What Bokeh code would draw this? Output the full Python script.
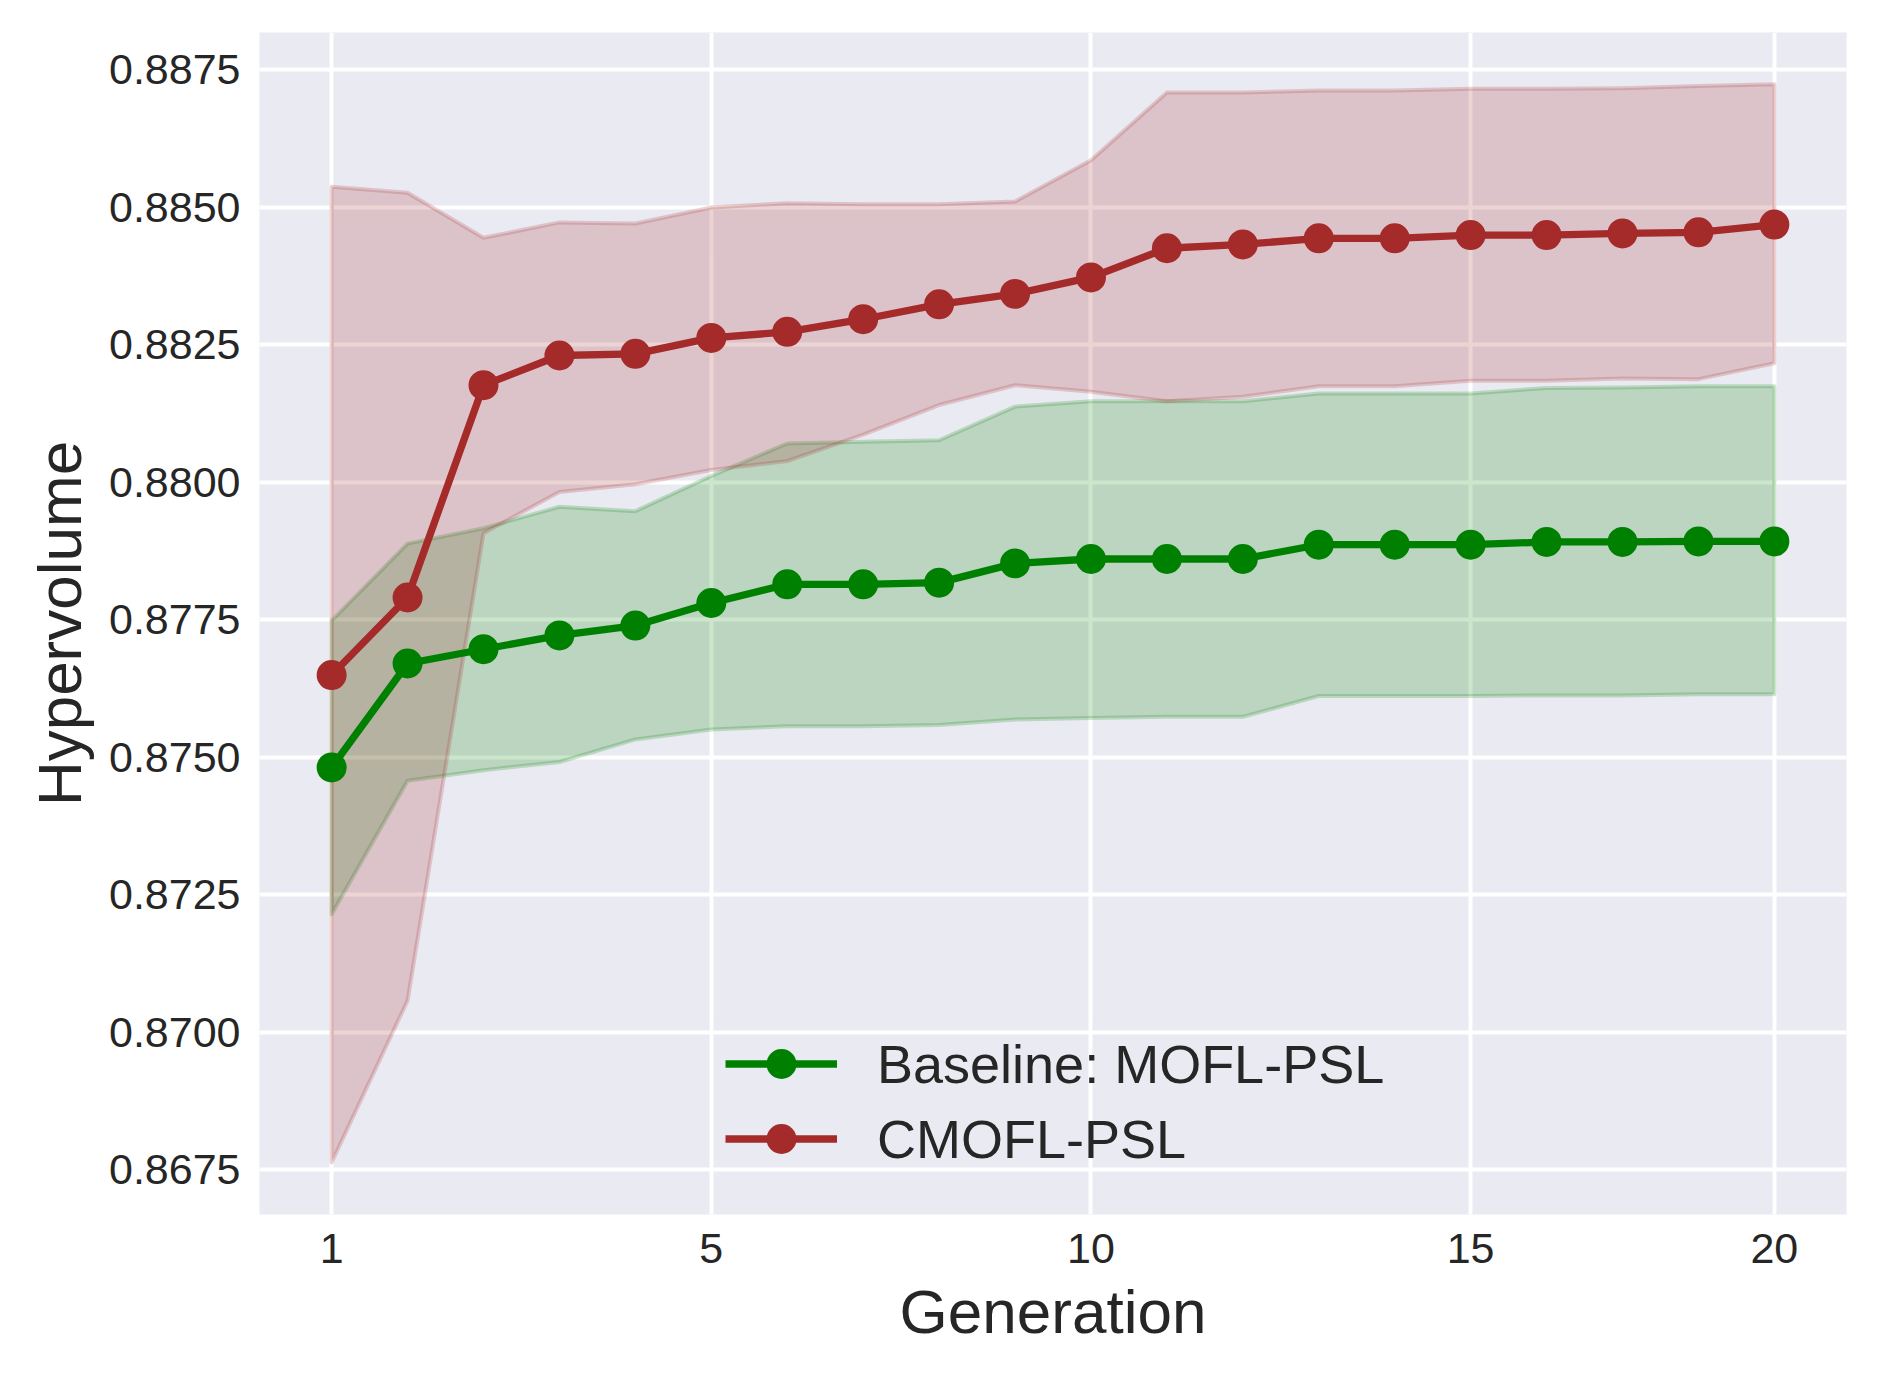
from bokeh.plotting import figure
from bokeh.models import FixedTicker, Legend, LegendItem, Range1d
from bokeh.embed import file_html
from bokeh.resources import INLINE

# ---- data ----
generation = list(range(20))
x_tick_pos = [0, 5, 10, 15, 19]
x_tick_labels = ["1", "5", "10", "15", "20"]
y_ticks = [0.8675, 0.8700, 0.8725, 0.8750, 0.8775, 0.8800, 0.8825, 0.8850, 0.8875]
y_tick_labels = ["0.8675", "0.8700", "0.8725", "0.8750", "0.8775", "0.8800", "0.8825", "0.8850", "0.8875"]

baseline_mean = [0.87481, 0.87670, 0.87696, 0.87721, 0.87739, 0.87780, 0.87814, 0.87814,
                 0.87817, 0.87852, 0.87860, 0.87860, 0.87860, 0.87886, 0.87886, 0.87886,
                 0.87891, 0.87891, 0.87892, 0.87892]
baseline_upper = [0.87748, 0.87888, 0.87916, 0.87955, 0.87947, 0.88011, 0.88070, 0.88073,
                  0.88076, 0.88137, 0.88147, 0.88147, 0.88147, 0.88161, 0.88161, 0.88161,
                  0.88171, 0.88172, 0.88174, 0.88174]
baseline_lower = [0.87214, 0.87457, 0.87476, 0.87491, 0.87532, 0.87550, 0.87556, 0.87556,
                  0.87558, 0.87568, 0.87571, 0.87573, 0.87573, 0.87611, 0.87611, 0.87611,
                  0.87612, 0.87612, 0.87614, 0.87614]

cmofl_mean = [0.87649, 0.87790, 0.88176, 0.88230, 0.88233, 0.88262, 0.88273, 0.88296,
              0.88323, 0.88342, 0.88372, 0.88425, 0.88432, 0.88443, 0.88443, 0.88449,
              0.88449, 0.88452, 0.88454, 0.88468]
cmofl_upper = [0.88537, 0.88526, 0.88444, 0.88472, 0.88470, 0.88499, 0.88507, 0.88505,
               0.88505, 0.88510, 0.88585, 0.88708, 0.88708, 0.88712, 0.88712, 0.88715,
               0.88715, 0.88716, 0.88720, 0.88723]
cmofl_lower = [0.86763, 0.87057, 0.87907, 0.87982, 0.87996, 0.88022, 0.88038, 0.88086,
               0.88140, 0.88176, 0.88164, 0.88147, 0.88155, 0.88174, 0.88174, 0.88184,
               0.88184, 0.88188, 0.88187, 0.88216]

series_names = ["Baseline: MOFL-PSL", "CMOFL-PSL"]
series_colors = ["#008000", "#A52A2A"]

FONT = "Liberation Sans"
TXT = "#262626"

W, H = 1862, 1361
p = figure(width=W, height=H, output_backend="svg", toolbar_location=None,
           x_range=Range1d(-0.95, 19.95), y_range=Range1d(0.866682, 0.888173),
           min_border_left=259, min_border_right=16, min_border_top=32, min_border_bottom=147)
p.background_fill_color = "#EAEAF2"
p.border_fill_color = "white"
p.outline_line_color = None

for g in (p.xgrid, p.ygrid):
    g.grid_line_color = "white"
    g.grid_line_width = 4
p.xgrid.ticker = FixedTicker(ticks=x_tick_pos)
p.ygrid.ticker = FixedTicker(ticks=y_ticks)

p.xaxis.ticker = FixedTicker(ticks=x_tick_pos)
p.xaxis.major_label_overrides = dict(zip(x_tick_pos, x_tick_labels))
p.yaxis.ticker = FixedTicker(ticks=y_ticks)
p.yaxis.major_label_overrides = dict(zip(y_ticks, y_tick_labels))

for ax in (p.xaxis, p.yaxis):
    ax.axis_line_color = None
    ax.major_tick_line_color = None
    ax.minor_tick_line_color = None
    ax.major_tick_out = 0
    ax.major_tick_in = 0
    ax.major_label_text_font = FONT
    ax.major_label_text_font_size = "43px"
    ax.major_label_text_color = TXT
    ax.axis_label_text_font = FONT
    ax.axis_label_text_font_size = "62px"
    ax.axis_label_text_font_style = "normal"
    ax.axis_label_text_color = TXT

p.xaxis.axis_label = "Generation"
p.yaxis.axis_label = "Hypervolume"
p.xaxis.major_label_standoff = 19
p.yaxis.major_label_standoff = 19
p.xaxis.axis_label_standoff = 11
p.yaxis.axis_label_standoff = 12

# bands
for lower, upper, c in ((baseline_lower, baseline_upper, series_colors[0]),
                        (cmofl_lower, cmofl_upper, series_colors[1])):
    xs = generation + generation[::-1]
    ys = upper + lower[::-1]
    p.patch(xs, ys, fill_color=c, fill_alpha=0.2, line_color=c, line_alpha=0.2,
            line_width=4, line_join="round")

items = []
for means, c, name in ((baseline_mean, series_colors[0], series_names[0]),
                       (cmofl_mean, series_colors[1], series_names[1])):
    l = p.line(generation, means, line_color=c, line_width=7.3, line_join="round")
    s = p.scatter(generation, means, size=30, fill_color=c, line_color=None)
    items.append(LegendItem(label=name, renderers=[l, s]))

legend = Legend(items=items, location=(466, 38), background_fill_alpha=0,
                border_line_color=None, padding=0, margin=0, spacing=0,
                glyph_width=112, glyph_height=75, label_height=75,
                label_standoff=40, label_text_font=FONT, label_text_font_size="54px",
                label_text_color=TXT)
p.add_layout(legend, "center")

open("out.html", "w").write(file_html(p, INLINE))
